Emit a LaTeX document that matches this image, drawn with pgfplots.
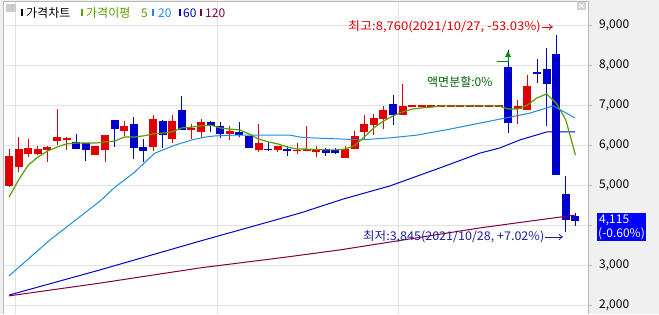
\documentclass[border=0pt]{standalone}
\usepackage{pgfplots}
\pgfplotsset{compat=1.18}
\usepackage{pgfplotstable}
\usepackage{fontspec}
\setmainfont{Noto Sans CJK KR}
\usetikzlibrary{arrows.meta}

\definecolor{cred}{RGB}{225,0,0}
\definecolor{cblue}{RGB}{0,0,205}
\definecolor{ma5}{RGB}{90,160,0}
\definecolor{ma20}{RGB}{30,140,225}
\definecolor{ma60}{RGB}{0,0,200}
\definecolor{ma120}{RGB}{128,0,64}
\definecolor{gridc}{RGB}{226,226,226}
\definecolor{panel}{RGB}{240,240,240}
\definecolor{framec}{RGB}{185,185,185}
\definecolor{minc}{RGB}{30,30,160}
\definecolor{splitc}{RGB}{0,100,0}
\definecolor{markc}{RGB}{0,140,0}

% rising candles: x(px) open high low close
\pgfplotstableread{
x o h l c
9 4990 5910 4960 5740
18.6 5460 6210 5340 5910
28.2 5790 6160 5710 5940
37.8 5790 5990 5760 5910
47.4 5890 5990 5590 5960
57 6110 6910 6010 6210
66.6 6140 6210 5890 6190
95.4 5760 5990 5760 5990
105 5890 6260 5590 6260
124.2 6360 6610 6240 6490
153 5960 6760 5860 6660
172.2 6160 6760 6060 6610
191.4 6390 6540 6160 6440
201 6340 6660 6190 6590
229.8 6290 6490 6140 6360
258.6 5890 6540 5840 6060
277.8 5890 5990 5840 5990
297 5860 6060 5790 5890
306.6 5860 6490 5860 5910
316.2 5840 5990 5710 5910
345 5690 5990 5690 5910
354.6 5910 6360 5910 6240
364.2 6340 6760 6140 6540
373.8 6510 6790 6260 6690
383.4 6660 6990 6410 6890
402.6 6760 7540 6760 6990
412.2 6990 6990 6990 6990
421.8 6990 6990 6990 6990
431.4 6990 6990 6990 6990
441 6990 6990 6990 6990
450.6 6990 6990 6990 6990
460.2 6990 6990 6990 6990
469.8 6990 6990 6990 6990
479.4 6990 6990 6990 6990
489 6990 6990 6990 6990
498.6 6990 6990 6990 6990
517.8 6910 7140 6540 6990
527.4 6890 7760 6890 7490
}\upcandles

% falling candles
\pgfplotstableread{
x o h l c
76.2 6090 6290 5910 5910
85.8 6060 6060 5610 5890
114.6 6640 6640 5960 6410
133.8 6540 6710 5660 5940
143.4 5960 6160 5590 5860
162.6 6610 6640 5940 6260
181.8 6890 7240 6390 6390
210.6 6590 6610 6340 6490
220.2 6490 6590 6190 6290
239.4 6340 6590 6210 6260
249 6240 6240 5940 5940
268.2 5910 6090 5860 5890
287.4 5910 5990 5740 5860
325.8 5910 5940 5740 5810
335.4 5890 5940 5790 5810
393 7040 7260 6510 6760
508.2 7960 8390 6310 6560
537 7840 8160 7560 7790
546.6 7910 8440 6490 7540
556.2 8290 8760 5260 5260
565.8 4790 5240 3845 4140
575.4 4240 4310 3990 4115
}\downcandles

\pgfplotsset{candle/.style 2 args={forget plot, draw=none, no markers,
  error bars/.cd, y dir=both, y explicit, error mark=none,
  error bar style={solid, draw=#1, line width=#2}}}

\begin{document}
\begin{tikzpicture}[font=\fontsize{12pt}{14pt}\selectfont]
% ---------- background (pixel coordinates, y downwards) ----------
\begin{scope}[x=1pt,y=-1pt,shift={(0,314pt)}]
\fill[panel] (0,0) rectangle (659,314);
\fill[white] (3,2) rectangle (588,314);
\foreach \yy in {25.5,65.5,105.5,145.5,185.5,225.5,265.5,305.5}{
  \draw[gridc,line width=1pt] (3,\yy) -- (588,\yy);
  \draw[framec,line width=1pt] (588,\yy) -- (592,\yy);
}
\foreach \xx in {15,217,398}{
  \draw[gridc,line width=1pt] (\xx,2) -- (\xx,314);
}
\draw[framec,line width=1pt] (3,314) -- (3,2) -- (588,2) -- (588,314);
\end{scope}

\begin{axis}[at={(0pt,0pt)}, anchor=south west, scale only axis,
  width=659pt, height=314pt, xmin=0, xmax=659, ymin=1787.5, ymax=9637.5,
  hide axis, clip=false]
% wicks
\addplot[candle={cred}{1pt}]
  table[x=x, y expr={(\thisrow{h}+\thisrow{l})/2}, y error expr={max((\thisrow{h}-\thisrow{l})/2,10)}] {\upcandles};
\addplot[candle={cblue}{1pt}]
  table[x=x, y expr={(\thisrow{h}+\thisrow{l})/2}, y error expr={max((\thisrow{h}-\thisrow{l})/2,10)}] {\downcandles};
% bodies
\addplot[candle={cred}{8pt}]
  table[x=x, y expr={(\thisrow{o}+\thisrow{c})/2}, y error expr={max(abs(\thisrow{o}-\thisrow{c})/2,12)}] {\upcandles};
\addplot[candle={cblue}{8pt}]
  table[x=x, y expr={(\thisrow{o}+\thisrow{c})/2}, y error expr={max(abs(\thisrow{o}-\thisrow{c})/2,12)}] {\downcandles};
% moving averages
\addplot[ma120, line width=1pt, no markers] coordinates {(9,2240) (100,2560) (200,2940) (280,3190) (340,3390) (480,3940) (530,4110) (560,4210) (575,4260)};
\addplot[ma60, line width=1pt, no markers] coordinates {(9,2260) (100,2890) (200,3610) (300,4310) (343,4660) (390,4990) (440,5440) (480,5810) (500,5940) (520,6140) (547,6340) (575,6340)};
\addplot[ma20, line width=1pt, no markers] coordinates {(9,2740) (50,3640) (100,4610) (115,4960) (135,5340) (144,5560) (155,5810) (175,6010) (192,6140) (205,6210) (215,6240) (235,6260) (290,6260) (300,6210) (312,6190) (343,6160) (360,6140) (390,6190) (417,6260) (450,6410) (480,6560) (500,6660) (530,6810) (553,6990) (575,6690)};
\addplot[ma5, line width=1.2pt, no markers] coordinates {(9,4710) (18.6,5140) (28.2,5510) (37.8,5710) (47.4,5860) (57,5960) (66.6,6040) (76.2,6060) (85.8,6060) (95.4,6060) (105,6090) (114.6,6110) (124.2,6210) (133.8,6210) (143.4,6240) (153,6290) (162.6,6310) (172.2,6340) (181.8,6440) (191.4,6460) (201,6490) (210.6,6510) (220.2,6440) (229.8,6410) (239.4,6390) (249,6290) (258.6,6160) (268.2,6090) (277.8,6040) (287.4,5960) (297,5910) (306.6,5910) (316.2,5900) (325.8,5890) (335.4,5890) (345,5910) (354.6,6000) (364.2,6210) (373.8,6440) (383.4,6610) (393,6740) (402.6,6840) (412.2,6910) (421.8,6940) (431.4,6960) (441,6990) (450.6,6990) (460.2,6990) (469.8,6990) (479.4,6990) (489,6990) (498.6,6990) (508.2,6910) (517.8,6910) (527.4,7010) (537,7190) (546.6,7290) (556.2,7060) (565.8,6640) (575.4,5760)};
\end{axis}

% ---------- overlay texts ----------
\begin{scope}[x=1pt,y=-1pt,shift={(0,314pt)}]
% close box
\fill[gray!35] (577,2) rectangle (586,10);
\draw[white,line width=0.8pt] (579,4) -- (584,8) (584,4) -- (579,8);
% legend
\fill[gray!40] (6,4) rectangle (16,12);
\fill[black] (21,9) rectangle (23,16);
\node[anchor=west,inner sep=0] at (26,13.5) {가격차트};
\fill[ma5] (81,9) rectangle (83,16);
\node[anchor=west,inner sep=0,text=ma5] at (86,13.5) {가격이평};
\node[anchor=west,inner sep=0,text=ma5] at (141,13) {5};
\fill[ma20] (152,9) rectangle (154,16);
\node[anchor=west,inner sep=0,text=ma20] at (158,13) {20};
\fill[ma60] (179,9) rectangle (181,16);
\node[anchor=west,inner sep=0,text=ma60] at (183,13) {60};
\fill[ma120] (200,9) rectangle (202,16);
\node[anchor=west,inner sep=0,text=ma120] at (205,13) {120};
% right axis labels
\foreach \yy/\lab in {25.5/{9,000},65.5/{8,000},105.5/{7,000},145.5/{6,000},185.5/{5,000},265.5/{3,000},305.5/{2,000}}{
  \node[anchor=west,inner sep=0] at (599,\yy) {\lab};
}
% current price box
\fill[blue] (597,213) rectangle (646,241);
\node[anchor=west,inner sep=0,text=white] at (599,220) {4,115};
\node[anchor=west,inner sep=0,text=white] at (598,234) {(-0.60\%)};
% annotations
\node[anchor=west,inner sep=0,text=cred] (hi) at (348,27) {\scalebox{1.085}[1]{최고:8,760(2021/10/27, -53.03\%)}};
\draw[cred,line width=0.8pt,-{To[length=4pt,width=6pt]}] ([xshift=1pt]hi.east) -- (553,27);
\node[anchor=west,inner sep=0,text=minc] (lo) at (363,237) {\scalebox{1.045}[1]{최저:3,845(2021/10/28, +7.02\%)}};
\draw[minc,line width=0.8pt,-{To[length=4pt,width=6pt]}] ([xshift=1pt]lo.east) -- (563,237);
\node[anchor=west,inner sep=0,text=splitc] at (427,82) {액면분할:0\%};
% split marker
\draw[markc,line width=1pt] (497,62) -- (508,62) -- (508,56);
\fill[markc] (505,57) -- (511,57) -- (508,51) -- cycle;
\end{scope}
\pgfresetboundingbox
\path[use as bounding box] (0,0) rectangle (659pt,314pt);
\end{tikzpicture}
\end{document}
